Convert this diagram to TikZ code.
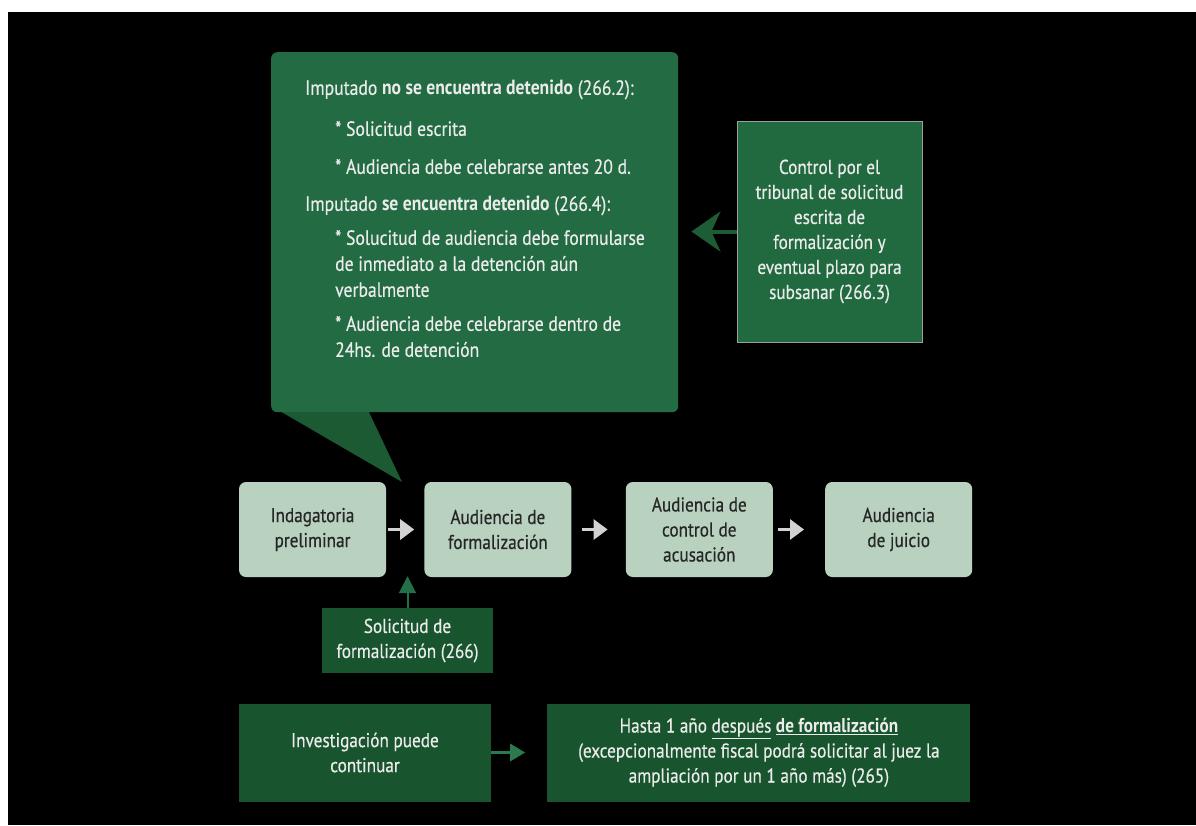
\documentclass[tikz,border=0pt]{standalone}
\usepackage{fontspec}
\setmainfont[FakeStretch=0.86,UprightFeatures={FakeBold=0.5}]{PT Sans}
\usetikzlibrary{positioning, arrows, arrows.meta}

\definecolor{callgreen}{HTML}{236B42}
\definecolor{tailgreen}{HTML}{1C5A34}
\definecolor{boxgreen}{HTML}{216A40}
\definecolor{darkgreen}{HTML}{18552E}
\definecolor{palegreen}{HTML}{B8D2BF}
\definecolor{arrowgray}{HTML}{D2D2D2}
\definecolor{upgreen}{HTML}{22704A}
\definecolor{backgreen}{HTML}{1E5C36}
\definecolor{lowgreen}{HTML}{2B7A4F}
\definecolor{txtlight}{HTML}{EBEBEB}

\begin{document}
\begin{tikzpicture}[x=1pt,y=-1pt,inner sep=0pt,>=latex',
  txt/.style={font=\fontsize{20}{25}\selectfont},
  stage/.style={txt,fill=palegreen,rounded corners=7pt,minimum width=147pt,minimum height=95pt,align=center,text=black!85},
  note/.style={txt,fill=darkgreen,align=center,text=txtlight},
  flow/.style={-{Triangle[length=14pt,width=20pt]},line width=3pt,arrowgray}]
\useasboundingbox (0,0) rectangle (1196,825);
\fill [white] (0,0) rectangle (1196,825);
\fill [black] (8,12) rectangle (1196,825);

% callout with the two cases
\fill [tailgreen] (278,410) -- (402,482) -- (368,410) -- cycle;
\draw node [fill=callgreen,rounded corners=6pt,minimum width=407pt,minimum height=360pt,anchor=north west] (Cond) at (271,52) {};
\draw node [font=\fontsize{20.5}{26}\selectfont,anchor=north west,align=left,text=txtlight] (CondTxt) at (305,80)
  {Imputado \textbf{no se encuentra detenido} (266.2):\\[15pt]
   \hspace*{30pt}* Solicitud escrita\\[12pt]
   \hspace*{30pt}* Audiencia debe celebrarse antes 20 d.\\[11pt]
   Imputado \textbf{se encuentra detenido} (266.4):\\[8pt]
   \hspace*{30pt}* Solucitud de audiencia debe formularse\\
   \hspace*{30pt}de inmediato a la detención aún\\
   \hspace*{30pt}verbalmente\\[8pt]
   \hspace*{30pt}* Audiencia debe celebrarse dentro de\\
   \hspace*{30pt}24hs. de detención};

\draw node [txt,fill=boxgreen,draw=gray!75,line width=1pt,minimum width=185pt,minimum height=221pt,align=center,text=txtlight] (Contr) at (829.5,231.5)
  {Control por el\\tribunal de solicitud\\escrita de\\formalización y\\eventual plazo para\\subsanar (266.3)};
\draw [-{Stealth[length=29pt,width=40pt,inset=9pt]},line width=4pt,backgreen] (Contr.west) -- ([xshift=13pt]Contr.west -| Cond.east);

% stages
\draw node [stage] (Indag) at (312.5,529.5) {Indagatoria\\preliminar};
\draw node [stage] [right=38pt of Indag] (Form) {Audiencia de\\formalización};
\draw node [stage] [right=54pt of Form] (Ctrl) {Audiencia de\\control de\\acusación};
\draw node [stage] [right=52pt of Ctrl] (Juicio) {Audiencia\\de juicio};
\draw [flow] ([xshift=2pt]Indag.east) -- ([xshift=-10pt]Form.west);
\draw [flow] ([xshift=10pt]Form.east) -- ([xshift=-18pt]Ctrl.west);
\draw [flow] ([xshift=5pt]Ctrl.east) -- ([xshift=-21pt]Juicio.west);

\draw node [note,minimum width=171pt,minimum height=65pt] (Solic) at (407.5,640.5) {Solicitud de\\formalización (266)};
\draw [-{Triangle[length=17pt,width=17pt]},line width=2pt,upgreen] (Solic.north) -- ([yshift=1pt]Solic.north |- Indag.south);

% investigation time limit
\draw node [note,minimum width=252pt,minimum height=98pt] (Invest) at (365,752.5) {Investigación puede\\continuar};
\draw node [note,minimum width=423pt,minimum height=98pt] [right=56pt of Invest] (Plazo)
  {Hasta 1 año \underline{después} \underline{\textbf{de formalización}}\\(excepcionalmente fiscal podrá solicitar al juez la\\ampliación por un 1 año más) (265)};
\draw [-{Triangle[length=15pt,width=17pt]},line width=3pt,lowgreen] (Invest.east) -- ([xshift=-22pt]Plazo.west);
\end{tikzpicture}
\end{document}
